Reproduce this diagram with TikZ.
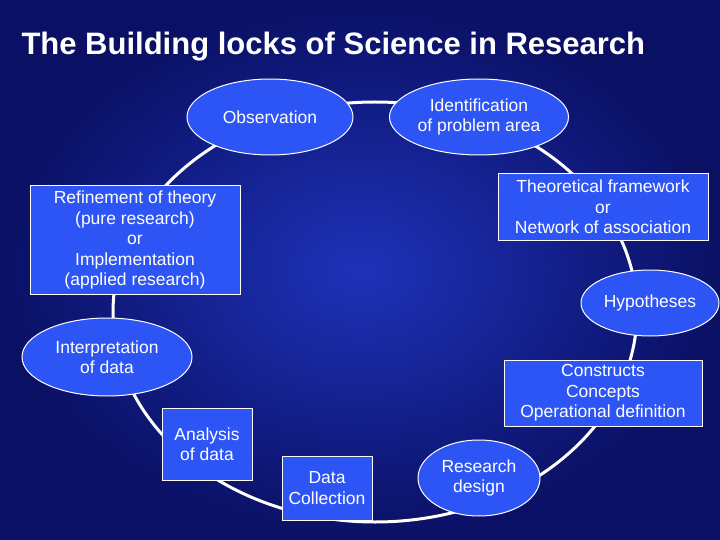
\documentclass[tikz,border=0pt]{standalone}
\usepackage{fontspec}
\setmainfont{Liberation Sans}
\usetikzlibrary{shapes.geometric}
\definecolor{bgin}{RGB}{30,50,185}
\definecolor{bgout}{RGB}{10,16,100}
\definecolor{nodeblue}{RGB}{45,85,245}
\tikzset{
  x=1pt,y=-1pt,
  base/.style={fill=nodeblue,draw=white,line width=1pt,text=white,font=\fontsize{17.5}{20.5}\selectfont,align=center,inner sep=2pt},
  ell/.style={base,ellipse},
  box/.style={base,rectangle},
}
\begin{document}
\begin{tikzpicture}
\useasboundingbox (0,0) rectangle (720,540);
\shade[inner color=bgin,outer color=bgout] (0,0) rectangle (720,540);
\node[text=white,font=\bfseries\fontsize{31}{36}\selectfont,anchor=west] (title) at (18,47) {The Building locks of Science in Research};
\draw[white,line width=3pt] (375,312) ellipse [x radius=262,y radius=210];
\node[ell,minimum width=166,minimum height=76] (obs) at (270,117) {Observation};
\node[ell,minimum width=166,minimum height=76] (idp) at (479,117) {Identification\\of problem area};
\node[box,minimum width=210,minimum height=66] (theo) at (603,207) {Theoretical framework\\or\\Network of association};
\node[ell,minimum width=138,minimum height=66] (hyp) at (650,303) {Hypotheses};
\node[box,minimum width=198,minimum height=66] (con) at (603,393) {Constructs\\Concepts\\Operational definition};
\node[ell,minimum width=122,minimum height=76] (rd) at (479,478) {Research\\design};
\node[box,minimum width=90,minimum height=64] (dc) at (327,488) {Data\\Collection};
\node[box,minimum width=90,minimum height=72] (an) at (207,444) {Analysis\\of data};
\node[ell,minimum width=170,minimum height=78] (int) at (107,357) {Interpretation\\of data};
\node[box,minimum width=210,minimum height=108] (ref) at (135,240) {Refinement of theory\\(pure research)\\or\\Implementation\\(applied research)};
\end{tikzpicture}
\end{document}
